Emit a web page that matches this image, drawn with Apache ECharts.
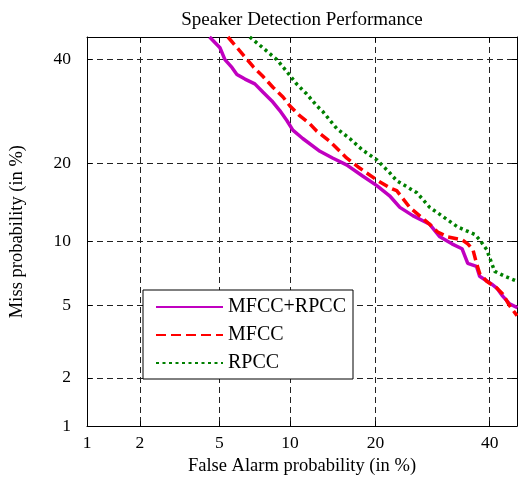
<!DOCTYPE html>
<html>
<head>
<meta charset="utf-8">
<script src="https://cdn.jsdelivr.net/npm/echarts@6/dist/echarts.min.js"></script>
<style>
  html, body { margin: 0; padding: 0; background: #fff; }
  #chart { width: 518px; height: 481px; }
</style>
</head>
<body>
<div id="chart"></div>
<script>
  // tick labels (in %), both axes
  var tickValues = [1, 2, 5, 10, 20, 40]
  var faRange = [1, 45.5]
  var missRange = [1, 45]

  // MFCC+RPCC
  var fusedFA = [4.5, 5.03, 5.3, 5.7, 6.0, 6.51, 7.18, 7.76, 8.46, 9.11, 9.72, 10.26, 11.2, 12.98, 14.4, 16.1,
    18.2, 20.2, 22.1, 23.7, 25.8, 28.7, 30.5, 32.7, 34.6, 35.7, 37.4, 38.0, 40.4, 41.4, 42.6, 44.0, 45.6]
  var fusedMiss = [45, 42.6, 40, 38.3, 36.8, 35.8, 34.8, 33.1, 31.3, 29.4, 27.5, 25.7, 24.2, 22.0, 20.9, 19.8,
    18.1, 16.7, 15.3, 13.8, 12.8, 11.8, 10.46, 9.76, 9.29, 7.98, 7.73, 6.96, 6.38, 6.11, 5.58, 5.10, 4.88]
  // MFCC
  var mfccFA = [5.47, 6.38, 7.05, 7.76, 8.54, 9.38, 10.0, 10.9, 11.9, 12.65, 14.1, 16.1, 17.8, 20.2, 22.1, 23.2,
    25.3, 28.7, 30.1, 31.9, 34.6, 35.7, 36.7, 37.4, 38.0, 39.4, 41.4, 42.6, 44.0, 45.5]
  var mfccMiss = [45, 41.1, 38.5, 36.4, 34.1, 32.1, 30.3, 28.4, 26.9, 25.5, 23.7, 20.9, 19.3, 17.5, 16.4, 16.0,
    13.8, 11.8, 10.96, 10.46, 10.16, 9.76, 9.2, 7.98, 7.18, 6.59, 6.11, 5.72, 4.99, 4.44]
  // RPCC
  var rpccFA = [6.83, 7.76, 8.86, 9.72, 10.6, 11.6, 12.65, 13.3, 14.9, 16.5, 18.2, 20.2, 22.1, 23.2, 26.5, 28.7,
    33.8, 37.1, 38.0, 39.4, 40.4, 41.0, 43.0, 45.5]
  var rpccMiss = [45, 42.6, 40.0, 37.4, 34.8, 32.7, 30.3, 29.2, 26.0, 24.2, 22.2, 20.6, 18.6, 17.4, 15.7, 13.8,
    11.5, 10.7, 10.16, 9.2, 7.98, 7.34, 6.96, 6.59]

  // inverse normal cdf (Acklam), DET axes are on normal deviate scale
  function probit(p) {
    var a = [-39.69683028665376, 220.9460984245205, -275.9285104469687, 138.3577518672690, -30.66479806614716, 2.506628277459239]
    var b = [-54.47609879822406, 161.5858368580409, -155.6989798598866, 66.80131188771972, -13.28068155288572]
    var c = [-0.007784894002430293, -0.3223964580411365, -2.400758277161838, -2.549732539343734, 4.374664141464968, 2.938163982698783]
    var d = [0.007784695709041462, 0.3224671290700398, 2.445134137142996, 3.754408661907416]
    var q, r
    if (p < 0.02425) {
      q = Math.sqrt(-2 * Math.log(p))
      return (((((c[0] * q + c[1]) * q + c[2]) * q + c[3]) * q + c[4]) * q + c[5]) /
        ((((d[0] * q + d[1]) * q + d[2]) * q + d[3]) * q + 1)
    }
    if (p > 1 - 0.02425) {
      return -probit(1 - p)
    }
    q = p - 0.5
    r = q * q
    return (((((a[0] * r + a[1]) * r + a[2]) * r + a[3]) * r + a[4]) * r + a[5]) * q /
      (((((b[0] * r + b[1]) * r + b[2]) * r + b[3]) * r + b[4]) * r + 1)
  }
  function z(pct) { return probit(pct / 100) }
  function pairs(fa, miss) {
    return fa.map(function (v, i) { return [z(v), z(miss[i])] })
  }

  var tickZ = tickValues.map(z)
  function tickLabel(v) {
    for (var i = 0; i < tickZ.length; i++) {
      if (Math.abs(tickZ[i] - v) < 1e-6) return String(tickValues[i])
    }
    return ''
  }

  var serif = 'Liberation Serif, Times New Roman, serif'
  var gridLine = { show: true, lineStyle: { color: '#222', type: [6, 4], width: 1 } }
  var frameLine = { show: true, onZero: false, lineStyle: { color: '#000', width: 1 } }

  function axis(range, pos, main, extra) {
    var o = {
      type: 'value',
      position: pos,
      min: z(range[0]),
      max: z(range[1]),
      axisLine: frameLine,
      axisTick: { show: true, inside: true, length: 5, customValues: tickZ, lineStyle: { color: '#000' } },
      axisLabel: { show: false },
      splitLine: main ? gridLine : { show: false }
    }
    for (var k in extra) o[k] = extra[k]
    return o
  }

  var chart = echarts.init(document.getElementById('chart'))
  chart.setOption({
    animation: false,
    title: {
      text: 'Speaker Detection Performance',
      left: 297,
      textAlign: 'center',
      top: 6,
      textStyle: { fontFamily: serif, fontSize: 19, fontWeight: 'normal', color: '#000' }
    },
    grid: { left: 87, right: 1, top: 37, bottom: 49 },
    legend: {
      left: 143,
      top: 290,
      orient: 'vertical',
      itemWidth: 67,
      itemHeight: 14,
      itemGap: 8,
      backgroundColor: '#fff',
      borderColor: '#000',
      borderWidth: 1,
      borderRadius: 0,
      padding: [7, 7, 6, 12],
      itemStyle: { opacity: 0 },
      textStyle: { fontFamily: serif, fontSize: 20, color: '#000' },
      data: ['MFCC+RPCC', 'MFCC', 'RPCC']
    },
    xAxis: [
      axis(faRange, 'bottom', true, {
        name: 'False Alarm probability (in %)',
        nameLocation: 'middle',
        nameGap: 28,
        nameTextStyle: { fontFamily: serif, fontSize: 18.5, color: '#000' },
        axisLabel: { customValues: tickZ, formatter: tickLabel, color: '#000', fontFamily: serif, fontSize: 17.5, margin: 8 }
      }),
      axis(faRange, 'top', false, {})
    ],
    yAxis: [
      axis(missRange, 'left', true, {
        name: 'Miss probability (in %)',
        nameLocation: 'middle',
        nameGap: 60,
        nameTextStyle: { fontFamily: serif, fontSize: 18.5, color: '#000' },
        axisLabel: { customValues: tickZ, formatter: tickLabel, color: '#000', fontFamily: serif, fontSize: 17.5, margin: 16 }
      }),
      axis(missRange, 'right', false, {})
    ],
    series: [
      {
        name: 'MFCC+RPCC',
        type: 'line',
        symbol: 'none',
        clip: true,
        lineStyle: { color: '#c000c0', width: 3.5, type: 'solid' },
        itemStyle: { color: '#c000c0' },
        data: pairs(fusedFA, fusedMiss),
        z: 3
      },
      {
        name: 'MFCC',
        type: 'line',
        symbol: 'none',
        clip: true,
        lineStyle: { color: '#ff0000', width: 3.5, type: [10, 5] },
        itemStyle: { color: '#ff0000' },
        data: pairs(mfccFA, mfccMiss),
        z: 4
      },
      {
        name: 'RPCC',
        type: 'line',
        symbol: 'none',
        clip: true,
        lineStyle: { color: '#008000', width: 3.5, type: [3, 3.5] },
        itemStyle: { color: '#008000' },
        data: pairs(rpccFA, rpccMiss),
        z: 2
      }
    ]
  })
</script>
</body>
</html>
